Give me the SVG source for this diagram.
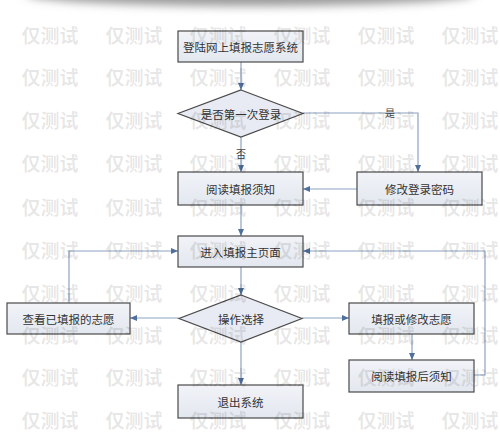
<svg xmlns="http://www.w3.org/2000/svg" width="500" height="434" viewBox="0 0 500 434">
<defs>
<filter id="blur" x="-20%" y="-200%" width="140%" height="500%"><feGaussianBlur stdDeviation="5"/></filter>
<marker id="arr" markerWidth="8" markerHeight="8" refX="7" refY="4" orient="auto" markerUnits="userSpaceOnUse">
<path d="M0,1 L7,4 L0,7 Z" fill="#4f6f9c"/>
</marker>
<linearGradient id="bg" x1="0" y1="0" x2="0" y2="1">
<stop offset="0" stop-color="#f1f3f8"/><stop offset="1" stop-color="#e3e7ef"/>
</linearGradient>
</defs>
<style>
.box{fill:url(#bg);stroke:#4a4a4a;stroke-width:1.2}
.dia{fill:#e8ebf3;stroke:#4a4a4a;stroke-width:1.2}
.t{font-family:"Noto Sans CJK SC","Noto Sans CJK TC",sans-serif;font-size:11.5px;fill:#333;text-anchor:middle;dominant-baseline:central}
.lbl{font-family:"Noto Sans CJK SC",sans-serif;font-size:10px;fill:#444;text-anchor:middle;dominant-baseline:central}
.c{fill:none;stroke:#8ea3c2;stroke-width:1.2;marker-end:url(#arr)}
.c2{fill:none;stroke:#8ea3c2;stroke-width:1.2}
.wm{font-family:"Noto Sans CJK SC",sans-serif;font-size:19px;font-weight:bold;fill:#000;fill-opacity:0.1;text-anchor:middle;dominant-baseline:central}
</style>
<rect width="500" height="434" fill="#fff"/>
<ellipse cx="250" cy="-6" rx="225" ry="12" fill="#9a9a9a" filter="url(#blur)"/>

<g id="connectors">
<path class="c" d="M241,62 V90"/>
<path class="c" d="M241,137 V172"/>
<path class="c" d="M303,113 H418 V172"/>
<path class="c" d="M357,189 H303"/>
<path class="c" d="M241,205 V236"/>
<path class="c" d="M241,267 V295"/>
<path class="c" d="M179,318 H130"/>
<path class="c" d="M302,318 H349"/>
<path class="c" d="M241,342 V385"/>
<path class="c" d="M412,334 V360"/>
<path class="c" d="M69,303 V251 H178"/>
<path class="c" d="M474,375 H485 V251 H303"/>
<text class="lbl" x="241" y="153">否</text>
<text class="lbl" x="390" y="112">是</text>
</g>

<g id="n1"><rect class="box" x="178" y="31" width="125" height="31"/><text class="t" x="240.5" y="46.5">登陆网上填报志愿系统</text></g>
<g id="n2"><polygon class="dia" points="241,90 303,113.5 241,137 178,113.5"/><text class="t" x="241" y="113.5">是否第一次登录</text></g>
<g id="n3"><rect class="box" x="178" y="172" width="125" height="33"/><text class="t" x="240.5" y="188.5">阅读填报须知</text></g>
<g id="n4"><rect class="box" x="357" y="172" width="125" height="33"/><text class="t" x="419.5" y="188.5">修改登录密码</text></g>
<g id="n5"><rect class="box" x="178" y="236" width="125" height="31"/><text class="t" x="240.5" y="251.5">进入填报主页面</text></g>
<g id="n6"><polygon class="dia" points="241,295 302,318.5 241,342 179,318.5"/><text class="t" x="241" y="318.5">操作选择</text></g>
<g id="n7"><rect class="box" x="7" y="303" width="123" height="31"/><text class="t" x="68.5" y="318.5">查看已填报的志愿</text></g>
<g id="n8"><rect class="box" x="349" y="303" width="125" height="31"/><text class="t" x="411.5" y="318.5">填报或修改志愿</text></g>
<g id="n9"><rect class="box" x="349" y="360" width="125" height="32"/><text class="t" x="411.5" y="376">阅读填报后须知</text></g>
<g id="n10"><rect class="box" x="178" y="385" width="125" height="33"/><text class="t" x="240.5" y="401.5">退出系统</text></g>

<g id="watermark">
<g transform="translate(0,34)"><text class="wm" x="50">仅测试</text><text class="wm" x="134">仅测试</text><text class="wm" x="218">仅测试</text><text class="wm" x="302">仅测试</text><text class="wm" x="386">仅测试</text><text class="wm" x="470">仅测试</text></g>
<g transform="translate(0,76)"><text class="wm" x="50">仅测试</text><text class="wm" x="134">仅测试</text><text class="wm" x="218">仅测试</text><text class="wm" x="302">仅测试</text><text class="wm" x="386">仅测试</text><text class="wm" x="470">仅测试</text></g>
<g transform="translate(0,119)"><text class="wm" x="50">仅测试</text><text class="wm" x="134">仅测试</text><text class="wm" x="218">仅测试</text><text class="wm" x="302">仅测试</text><text class="wm" x="386">仅测试</text><text class="wm" x="470">仅测试</text></g>
<g transform="translate(0,162)"><text class="wm" x="50">仅测试</text><text class="wm" x="134">仅测试</text><text class="wm" x="218">仅测试</text><text class="wm" x="302">仅测试</text><text class="wm" x="386">仅测试</text><text class="wm" x="470">仅测试</text></g>
<g transform="translate(0,206)"><text class="wm" x="50">仅测试</text><text class="wm" x="134">仅测试</text><text class="wm" x="218">仅测试</text><text class="wm" x="302">仅测试</text><text class="wm" x="386">仅测试</text><text class="wm" x="470">仅测试</text></g>
<g transform="translate(0,249)"><text class="wm" x="50">仅测试</text><text class="wm" x="134">仅测试</text><text class="wm" x="218">仅测试</text><text class="wm" x="302">仅测试</text><text class="wm" x="386">仅测试</text><text class="wm" x="470">仅测试</text></g>
<g transform="translate(0,292)"><text class="wm" x="50">仅测试</text><text class="wm" x="134">仅测试</text><text class="wm" x="218">仅测试</text><text class="wm" x="302">仅测试</text><text class="wm" x="386">仅测试</text><text class="wm" x="470">仅测试</text></g>
<g transform="translate(0,334)"><text class="wm" x="50">仅测试</text><text class="wm" x="134">仅测试</text><text class="wm" x="218">仅测试</text><text class="wm" x="302">仅测试</text><text class="wm" x="386">仅测试</text><text class="wm" x="470">仅测试</text></g>
<g transform="translate(0,376)"><text class="wm" x="50">仅测试</text><text class="wm" x="134">仅测试</text><text class="wm" x="218">仅测试</text><text class="wm" x="302">仅测试</text><text class="wm" x="386">仅测试</text><text class="wm" x="470">仅测试</text></g>
<g transform="translate(0,419)"><text class="wm" x="50">仅测试</text><text class="wm" x="134">仅测试</text><text class="wm" x="218">仅测试</text><text class="wm" x="302">仅测试</text><text class="wm" x="386">仅测试</text><text class="wm" x="470">仅测试</text></g>
</g>
</svg>
